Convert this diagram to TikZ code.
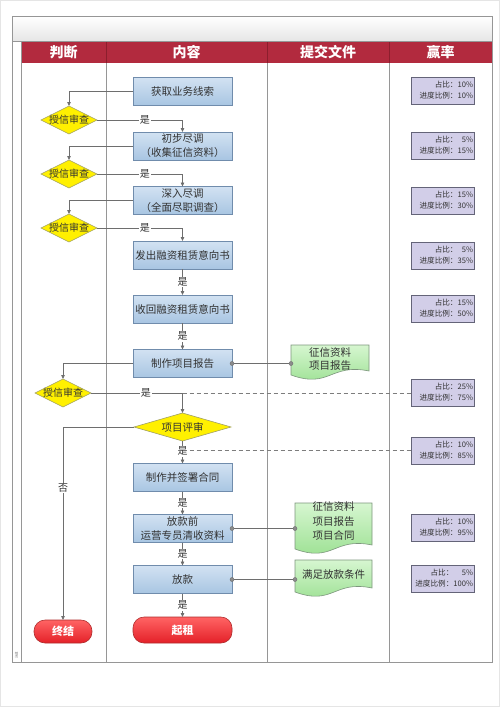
\documentclass[tikz,border=0pt]{standalone}
\usepackage{fontspec}
\setmainfont{Noto Sans CJK SC}
\usetikzlibrary{shapes.geometric,arrows.meta,calc}
\definecolor{hdrred}{RGB}{178,42,62}
\definecolor{hdrline}{RGB}{140,30,45}
\definecolor{bluetop}{RGB}{210,226,242}
\definecolor{bluebot}{RGB}{168,197,226}
\definecolor{blueedge}{RGB}{112,140,172}
\definecolor{yel}{RGB}{255,240,0}
\definecolor{yeledge}{RGB}{160,160,100}
\definecolor{greentop}{RGB}{214,246,208}
\definecolor{greenbot}{RGB}{150,222,140}
\definecolor{greenedge}{RGB}{125,150,125}
\definecolor{redtop}{RGB}{255,100,100}
\definecolor{redbot}{RGB}{228,32,40}
\definecolor{rededge}{RGB}{175,45,45}
\definecolor{lav}{RGB}{210,206,232}
\definecolor{lavedge}{RGB}{100,100,120}
\definecolor{linecol}{RGB}{110,110,110}
\definecolor{framecol}{RGB}{150,150,150}
\definecolor{txt}{RGB}{50,50,50}
\definecolor{dashcol}{RGB}{125,125,125}
\definecolor{dotcol}{RGB}{140,140,140}
\newcommand\docpath[1]{%
  \path[docsty] (#1.north west) -- (#1.north east) -- ($(#1.south east)+(0,-6)$)
    .. controls ($(#1.south)+(0,-14)$) and ($(#1.south)+(0,12)$) .. ($(#1.south west)+(0,-2)$) -- cycle;}
\begin{document}
\begin{tikzpicture}[x=1pt,y=-1pt,
  every node/.style={inner sep=0pt, outer sep=0pt},
  bbox/.style={draw=blueedge, line width=0.8pt, top color=bluetop, bottom color=bluebot,
    minimum width=99pt, minimum height=28pt, align=center, text=txt, font=\fontsize{10.5}{14}\selectfont},
  dia/.style={diamond, draw=yeledge, line width=0.6pt, fill=yel, minimum width=56pt, minimum height=28pt},
  dtxt/.style={font=\fontsize{10}{12}\selectfont, text=txt},
  docframe/.style={minimum width=77pt},
  doctext/.style={align=center, text=txt, font=\fontsize{10.5}{14.5}\selectfont},
  docsty/.style={draw=greenedge, line width=0.6pt, top color=greentop, bottom color=greenbot},
  term/.style={draw=rededge, line width=0.6pt, top color=redtop, bottom color=redbot, text=white,
    font=\fontsize{11}{13}\selectfont\bfseries, rounded corners=11pt},
  ratio/.style={draw=lavedge, line width=0.6pt, fill=lav, minimum width=63pt, minimum height=27pt,
    inner xsep=1pt, text width=61pt, align=right, text=txt, font=\fontsize{7.6}{11}\selectfont},
  conn/.style={draw=linecol, line width=0.75pt, -{Triangle[length=4pt,width=3.5pt]}},
  yes/.style={fill=white, text=txt, font=\fontsize{10}{12}\selectfont, inner sep=1pt},
  dashline/.style={draw=dashcol, line width=0.9pt, dash pattern=on 4pt off 3pt},
  link/.style={draw=linecol, line width=0.75pt},
  dot/.style={fill=dotcol, draw=linecol, line width=0.4pt},
  hdr/.style={text=white, font=\fontsize{14}{16}\selectfont\bfseries},
]
\useasboundingbox (0,0) rectangle (500,707);
\draw[black!10] (0.5,0.5) rectangle (499.5,706.5);
% frame and lanes
\shade[top color=white, bottom color=black!10] (12,16) rectangle (492,41);
\fill[hdrred] (21,42) rectangle (492,63);
\draw[framecol, line width=0.8pt] (12,16) rectangle (492,662);
\draw[framecol, line width=0.8pt] (12,41) -- (492,41);
\draw[framecol, line width=0.8pt] (21,41) -- (21,662);
\foreach \xx in {106,267,389} {
  \draw[hdrline, line width=0.6pt] (\xx,42) -- (\xx,63);
  \draw[framecol, line width=0.8pt] (\xx,63) -- (\xx,662);
}
\node[hdr] (h1) at (63.5,52.5) {判断};
\node[hdr] (h2) at (186.5,52.5) {内容};
\node[hdr] (h3) at (328,52.5) {提交文件};
\node[hdr] (h4) at (440.5,52.5) {赢率};
\node[rotate=90, text=black!50, font=\fontsize{3.5}{4}\selectfont] (lane) at (16.5,655) {泳道};

% content boxes
\node[bbox] (b1) at (182.5,91.5) {获取业务线索};
\node[bbox] (b2) at (182.5,146) {初步尽调\\（收集征信资料）};
\node[bbox] (b3) at (182.5,200.5) {深入尽调\\（全面尽职调查）};
\node[bbox] (b4) at (182.5,255) {发出融资租赁意向书};
\node[bbox] (b5) at (182.5,309) {收回融资租赁意向书};
\node[bbox] (b6) at (182.5,363.5) {制作项目报告};
\node[bbox] (b7) at (182.5,477.5) {制作并签署合同};
\node[bbox] (b8) at (182.5,528.5) {放款前\\运营专员清收资料};
\node[bbox] (b9) at (182.5,579.5) {放款};
\node[term, minimum width=99pt, minimum height=26pt] (t2) at (182.5,630) {起租};
\node[term, minimum width=58pt, minimum height=23pt] (t1) at (63,631.5) {终结};

% diamonds
\node[dia, label={[dtxt]center:授信审查}] (d1) at (69,120) {};
\node[dia, label={[dtxt]center:授信审查}] (d2) at (69,174) {};
\node[dia, label={[dtxt]center:授信审查}] (d3) at (69,228) {};
\node[dia, label={[dtxt]center:授信审查}] (d4) at (63,393) {};
\node[dia, minimum width=97pt, label={[dtxt, font=\fontsize{10.5}{12}\selectfont]center:项目评审}] (d5) at (182.5,427) {};

% ratio boxes
\node[ratio] (r1) at (442.5,91) {\begin{tabular}{@{}r@{}r@{}}占比：&10\%\\进度比例：&10\%\end{tabular}};
\node[ratio] (r2) at (442.5,145.5) {\begin{tabular}{@{}r@{}r@{}}占比：&5\%\\进度比例：&15\%\end{tabular}};
\node[ratio] (r3) at (442.5,200.5) {\begin{tabular}{@{}r@{}r@{}}占比：&15\%\\进度比例：&30\%\end{tabular}};
\node[ratio] (r4) at (442.5,255.5) {\begin{tabular}{@{}r@{}r@{}}占比：&5\%\\进度比例：&35\%\end{tabular}};
\node[ratio] (r5) at (442.5,309) {\begin{tabular}{@{}r@{}r@{}}占比：&15\%\\进度比例：&50\%\end{tabular}};
\node[ratio] (r6) at (442.5,393) {\begin{tabular}{@{}r@{}r@{}}占比：&25\%\\进度比例：&75\%\end{tabular}};
\node[ratio] (r7) at (442.5,450.5) {\begin{tabular}{@{}r@{}r@{}}占比：&10\%\\进度比例：&85\%\end{tabular}};
\node[ratio] (r8) at (442.5,528) {\begin{tabular}{@{}r@{}r@{}}占比：&10\%\\进度比例：&95\%\end{tabular}};
\node[ratio] (r9) at (442.5,579) {\begin{tabular}{@{}r@{}r@{}}占比：&5\%\\进度比例：&100\%\end{tabular}};

% documents
\node[docframe, minimum width=78pt, minimum height=32pt] (docA) at (330,361) {};
\docpath{docA}
\node[doctext, font=\fontsize{10.5}{13}\selectfont] (docAt) at (330,359.5) {征信资料\\项目报告};
\node[docframe, minimum height=48pt] (docB) at (333.5,527) {};
\docpath{docB}
\node[doctext] (docBt) at (333.5,521.5) {征信资料\\项目报告\\项目合同};
\node[docframe, minimum height=34pt] (docC) at (333.5,577) {};
\docpath{docC}
\node[doctext] (docCt) at (333.5,575) {满足放款条件};

% connectors to documents
\draw[link] (b6.east) -- (b6.east -| docA.west);
\fill[dot] (b6.east) circle (2pt);
\fill[dot] (b6.east -| docA.west) circle (2pt);
\draw[link] (b8.east) -- (b8.east -| docB.west);
\fill[dot] (b8.east) circle (2pt);
\fill[dot] (b8.east -| docB.west) circle (2pt);
\draw[link] (b9.east) -- (b9.east -| docC.west);
\fill[dot] (b9.east) circle (2pt);
\fill[dot] (b9.east -| docC.west) circle (2pt);

% dashed lines to ratio boxes
\coordinate (j4) at (d4.east -| d5.north);
\coordinate (j5) at (182.5,450);
\draw[dashline] (j4) -- (r6.west);
\draw[dashline] (j5) -- (j5 -| r7.west);

% flow connectors
\draw[conn] (b1.west) -| (d1.north);
\draw[conn] (d1.east) -| node[yes, pos=0.28] {是} (b2.north);
\draw[conn] (b2.west) -| (d2.north);
\draw[conn] (d2.east) -| node[yes, pos=0.28] {是} (b3.north);
\draw[conn] (b3.west) -| (d3.north);
\draw[conn] (d3.east) -| node[yes, pos=0.28] {是} (b4.north);
\draw[conn] (b4.south) -- node[yes] {是} (b5.north);
\draw[conn] (b5.south) -- node[yes] {是} (b6.north);
\draw[conn] (b6.west) -| (d4.north);
\draw[conn] (d4.east) -| node[yes, pos=0.30] {是} (d5.north);
\draw[conn] (d5.west) -| node[yes, pos=0.658] {否} (t1.north);
\draw[conn] (d5.south) -- node[yes, pos=0.45] {是} (b7.north);
\draw[conn] (b7.south) -- node[yes] {是} (b8.north);
\draw[conn] (b8.south) -- node[yes] {是} (b9.north);
\draw[conn] (b9.south) -- node[yes] {是} (t2.north);
\end{tikzpicture}
\end{document}
